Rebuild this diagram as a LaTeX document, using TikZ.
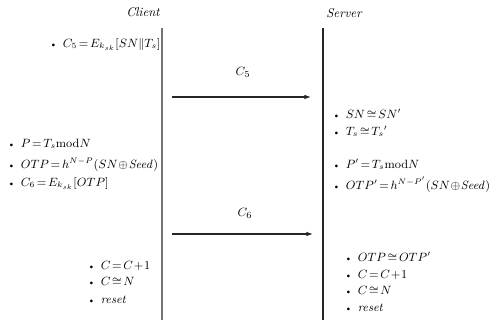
\documentclass[tikz,border=0pt]{standalone}
\usetikzlibrary{arrows.meta}
\newcommand{\bul}{{\fontsize{7}{8}\selectfont\textbullet}\hspace{4pt}}
\newcommand{\tightmath}{\thickmuskip=2.5mu\relax\medmuskip=1mu\relax}
\begin{document}
\begin{tikzpicture}[x=0.75pt,y=-0.75pt,
  txt/.style={anchor=west,inner sep=0pt,text height=6.5pt,text depth=1.5pt,font=\fontsize{9}{10}\selectfont\tightmath},
  lab/.style={inner sep=0pt,font=\fontsize{9.5}{11}\selectfont\itshape},
  life/.style={line width=0.9pt},
  msg/.style={line width=0.8pt,-{Latex[length=5pt,width=3.5pt]},draw=black!85}]
\useasboundingbox (0,0) rectangle (497,320);
\node[lab] (client) at (143,12) {Client};
\node[lab] (server) at (344,13) {Server};
\coordinate (ctop) at (162,28); \coordinate (cbot) at (162,320);
\coordinate (stop) at (323,28); \coordinate (sbot) at (323,320);
\draw[life,draw=black!55] (ctop) -- (cbot);
\draw[life,draw=black!85] (stop) -- (sbot);
% messages
\coordinate (a1) at (172,97); \coordinate (b1) at (311,97);
\draw[msg] (a1) -- (b1);
\node[lab] (m1) at (243,72) {$C_5$};
\coordinate (a2) at (172,234); \coordinate (b2) at (313,234);
\draw[msg] (a2) -- (b2);
\node[lab] (m2) at (245,213) {$C_6$};
% client texts
\node[txt] (l1) at (49,44) {\bul$C_5=E_{k_{sk}}[SN\|T_s]$};
\node[txt] (l2) at (7,144) {\bul$P=T_s\mathrm{mod}N$};
\node[txt] (l3) at (7,165) {\bul$OTP=h^{N-P}(SN\oplus \mathit{Seed})$};
\node[txt] (l4) at (7,183) {\bul$C_6=E_{k_{sk}}[OTP]$};
\node[txt] (l5) at (87,266) {\bul$C=C+1$};
\node[txt] (l6) at (87,282) {\bul$C\cong N$};
\node[txt] (l7) at (87,300) {\bul$\mathit{reset}$};
% server texts
\node[txt] (r1) at (332,115) {\bul$SN\cong SN'$};
\node[txt] (r2) at (332,132) {\bul$T_s\cong T_s{}'$};
\node[txt] (r3) at (332,165) {\bul$P'=T_s\mathrm{mod}N$};
\node[txt] (r4) at (332,186) {\bul$OTP'=h^{N-P'}(SN\oplus \mathit{Seed})$};
\node[txt] (r5) at (344,258) {\bul$OTP\cong OTP'$};
\node[txt] (r6) at (344,275) {\bul$C=C+1$};
\node[txt] (r7) at (344,291) {\bul$C\cong N$};
\node[txt] (r8) at (344,308) {\bul$\mathit{reset}$};
\end{tikzpicture}
\end{document}
